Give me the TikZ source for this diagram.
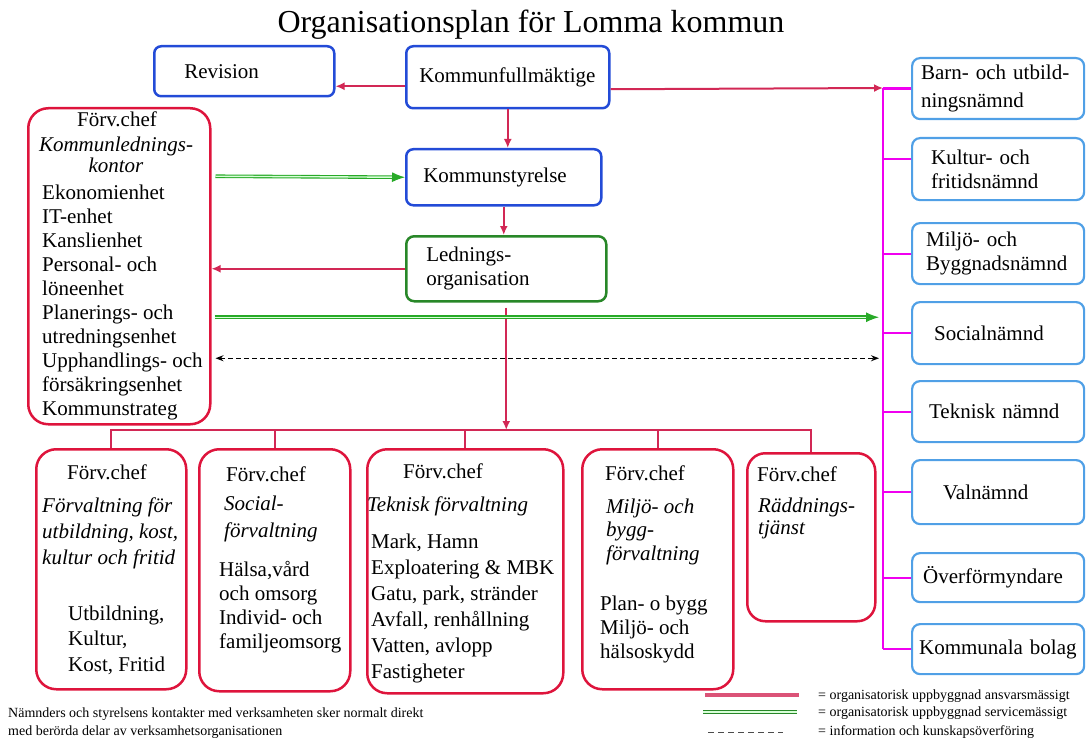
\documentclass[tikz,border=0pt]{standalone}
\usepackage{fontspec}
\setmainfont{Liberation Serif}
\usetikzlibrary{arrows.meta}
\definecolor{kfblue}{RGB}{35,75,215}
\definecolor{boardblue}{RGB}{80,160,230}
\definecolor{officered}{RGB}{222,20,60}
\definecolor{linered}{RGB}{210,40,85}
\definecolor{mgmtgreen}{RGB}{40,135,40}
\definecolor{servgreen}{RGB}{40,170,40}
\definecolor{magentabus}{RGB}{240,0,240}
\begin{document}
\begin{tikzpicture}[
    x=1pt, y=-1pt,
    every node/.style={font=\fontsize{21}{24}\selectfont},
    council/.style={draw=kfblue, line width=2.5pt, rounded corners=7pt, anchor=north west, align=left, inner ysep=0pt},
    board/.style={draw=boardblue, line width=2.2pt, rounded corners=8pt, anchor=north west, align=left, inner ysep=0pt, minimum height=#1},
    mgmt/.style={draw=mgmtgreen, line width=2.5pt, rounded corners=8pt, anchor=north west, align=left, inner ysep=0pt},
    office/.style={draw=officered, line width=2.5pt, rounded corners=20pt, anchor=north west, inner sep=0pt},
    txt/.style={anchor=base west, align=left, inner sep=0pt, font=\fontsize{21}{#1}\selectfont},
    txt/.default=24,
    ital/.style={anchor=base west, align=left, inner sep=0pt, font=\fontsize{21}{#1}\selectfont\itshape},
    ital/.default=24,
    arrow/.style={draw=linered, line width=2pt, -{Latex[length=9pt,width=8pt]}},
    orgline/.style={draw=linered, line width=2pt},
    servline/.style={draw=servgreen, double=green!15, double distance=1.4pt, line width=1.1pt},
    service/.style={servline, -{Latex[length=13pt,width=10pt]}},
    info/.style={dashed, dash pattern=on 5pt off 3pt, line width=1.2pt, {Stealth[length=8pt,width=6pt]}-{Stealth[length=8pt,width=6pt]}},
    busline/.style={draw=magentabus, line width=2.2pt},
    small/.style={font=\fontsize{14}{17}\selectfont, anchor=west, inner sep=0pt}
]
    \useasboundingbox (0,0) rectangle (1086,738);

    \node[anchor=base, font=\fontsize{32}{36}\selectfont] (title) at (531,33) {Organisationsplan för Lomma kommun};

    % politisk nivå
    \node (rev) [council, minimum height=50pt, text width=120pt, inner xsep=30pt] at (153,45) {Revision};
    \node (kf) [council, minimum height=62pt, text width=177pt, inner xsep=13pt] at (405,45) {Kommunfullmäktige};
    \node (ks) [council, minimum height=56pt, text width=161pt, inner xsep=17pt] at (405,148) {Kommunstyrelse};
    \node (lo) [mgmt, minimum height=65pt, text width=160pt, inner xsep=20pt] at (405,235) {Lednings-\\organisation};

    % nämnder
    \node (r1) [board=61pt, text width=154pt, inner xsep=9pt] at (911,57) {Barn- och utbild-\\[4pt]ningsnämnd};
    \node (r2) [board=62pt, text width=134pt, inner xsep=19pt] at (911,137) {Kultur- och\\fritidsnämnd};
    \node (r3) [board=61pt, text width=144pt, inner xsep=14pt] at (911,222) {Miljö- och\\Byggnadsnämnd};
    \node (r4) [board=62pt, text width=128pt, inner xsep=22pt] at (911,301) {Socialnämnd};
    \node (r5) [board=61pt, text width=138pt, inner xsep=17pt] at (911,380) {Teknisk nämnd};
    \node (r6) [board=64pt, text width=110pt, inner xsep=31pt] at (911,459) {Valnämnd};
    \node (r7) [board=49pt, text width=150pt, inner xsep=11pt] at (911,552) {Överförmyndare};
    \node (r8) [board=50pt, text width=158pt, inner xsep=7pt] at (911,623) {Kommunala bolag};

    % kommunledningskontor (base = sista raden)
    \node (klk) [office, minimum width=182pt, minimum height=316pt] at (27,107) {};
    \node (klkchef) [txt, anchor=base] at (117,127) {Förv.chef};
    \node (klkname) [ital, anchor=base, align=center] at (116,173) {Kommunlednings-\\[-3pt]kontor};
    \node (klkunits) [txt] at (42,415) {Ekonomienhet\\IT-enhet\\Kanslienhet\\Personal- och\\löneenhet\\Planerings- och\\utredningsenhet\\Upphandlings- och\\försäkringsenhet\\Kommunstrateg};

    % förvaltningar
    \node (b1) [office, minimum width=150pt, minimum height=240pt] at (35,448) {};
    \node (b1chef) [txt, anchor=base] at (107,479) {Förv.chef};
    \node (b1name) [ital=26] at (42,564) {Förvaltning för\\utbildning, kost,\\kultur och fritid};
    \node (b1units) [txt=25.5] at (68,671) {Utbildning,\\Kultur,\\Kost, Fritid};

    \node (b2) [office, minimum width=151pt, minimum height=242pt] at (198,448) {};
    \node (b2chef) [txt] at (226,481) {Förv.chef};
    \node (b2name) [ital=27] at (224,537) {Social-\\förvaltning};
    \node (b2units) [txt] at (219,648) {Hälsa,vård\\och omsorg\\Individ- och\\familjeomsorg};

    \node (b3) [office, minimum width=196pt, minimum height=244pt] at (366,448) {};
    \node (b3chef) [txt] at (403,478) {Förv.chef};
    \node (b3name) [ital] at (367,511) {Teknisk förvaltning};
    \node (b3units) [txt=26] at (371,678) {Mark, Hamn\\Exploatering \& MBK\\Gatu, park, stränder\\Avfall, renhållning\\Vatten, avlopp\\Fastigheter};

    \node (b4) [office, minimum width=151pt, minimum height=240pt] at (581,448) {};
    \node (b4chef) [txt] at (605,480) {Förv.chef};
    \node (b4name) [ital=23.5] at (606,560) {Miljö- och\\bygg-\\förvaltning};
    \node (b4units) [txt] at (600,658) {Plan- o bygg\\Miljö- och\\hälsoskydd};

    \node (b5) [office, minimum width=128pt, minimum height=168pt, rounded corners=18pt] at (746,452) {};
    \node (b5chef) [txt] at (757,481) {Förv.chef};
    \node (b5name) [ital=22] at (758,534) {Räddnings-\\tjänst};

    % linjer
    \coordinate (btop) at (883,88);
    \coordinate (bus) at (506,430);

    \draw [arrow] ([yshift=-9pt]kf.west) -- ([yshift=-15pt]rev.east);
    \draw [arrow] ([yshift=-12pt]kf.east) -- (btop);
    \draw [arrow] (kf.south) -- (kf.south |- ks.north);
    \draw [arrow] (ks.south) -- (ks.south |- lo.north);
    \draw [arrow] (lo.west) -- (lo.west -| klk.east);
    \draw [arrow] ([yshift=-5pt]lo.south) -- (lo.south |- bus);

    \draw [orgline] (b1.north) -- (b1.north |- bus) -| (b5.north);
    \draw [orgline] (b2.north) -- (b2.north |- bus);
    \draw [orgline] (b3.north) -- (b3.north |- bus);
    \draw [orgline] (b4.north) -- (b4.north |- bus);

    \draw [service] ([xshift=4pt,yshift=90pt]klk.east) -- (ks.west);
    \draw [service] ([xshift=3pt,yshift=-51pt]klk.east) coordinate (g2) -- ([xshift=-4pt]g2 -| btop);
    \draw [info] ([xshift=4pt,yshift=-92pt]klk.east) coordinate (d1) -- ([xshift=-4pt]d1 -| btop);

    \draw [busline] (btop) -- (r8.west -| btop);
    \draw [busline] (r1.west) -- (r1.west -| btop);
    \draw [busline] ([yshift=10pt]r2.west) -- ([yshift=10pt]r2.west -| btop);
    \draw [busline] (r3.west) -- (r3.west -| btop);
    \draw [busline] (r4.west) -- (r4.west -| btop);
    \draw [busline] (r5.west) -- (r5.west -| btop);
    \draw [busline] (r6.west) -- (r6.west -| btop);
    \draw [busline] (r7.west) -- (r7.west -| btop);
    \draw [busline] (r8.west) -- (r8.west -| btop);

    % förklaring
    \coordinate (lg1a) at (705,695);
    \coordinate (lg1b) at (799,695);
    \coordinate (lg2a) at (703,712);
    \coordinate (lg2b) at (797,712);
    \coordinate (lg3a) at (708,732);
    \coordinate (lg3b) at (783,732);
    \draw [orgline, line width=4pt, draw=linered!80] (lg1a) -- (lg1b);
    \draw [servline, draw=mgmtgreen] (lg2a) -- (lg2b);
    \draw [dashed, dash pattern=on 6pt off 4pt, draw=black!70, line width=1pt] (lg3a) -- (lg3b);

    \node (lg1) [small] at (818,696) {= organisatorisk uppbyggnad ansvarsmässigt};
    \node (lg2) [small] at (818,713) {= organisatorisk uppbyggnad servicemässigt};
    \node (lg3) [small] at (818,732) {= information och kunskapsöverföring};

    \node (note1) [small] at (8,714) {Nämnders och styrelsens kontakter med verksamheten sker normalt direkt};
    \node (note2) [small] at (8,732) {med berörda delar av verksamhetsorganisationen};
\end{tikzpicture}
\end{document}
